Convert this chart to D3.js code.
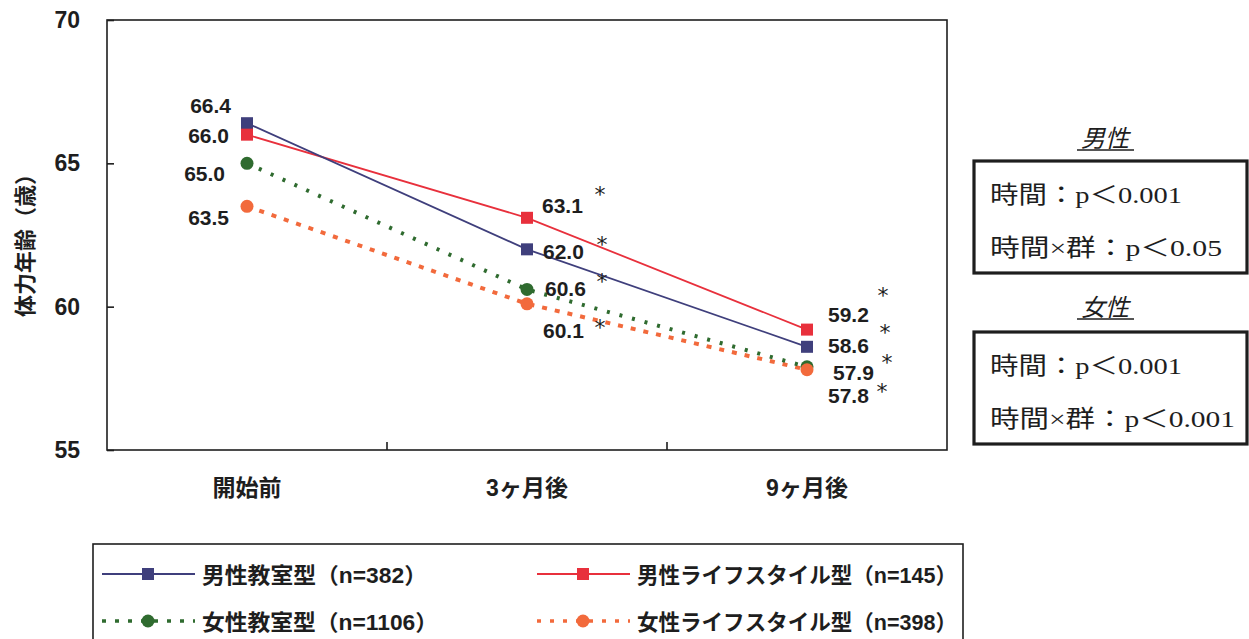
<!DOCTYPE html>
<html>
<head>
<meta charset="utf-8">
<script src="https://cdn.jsdelivr.net/npm/d3@7"></script>
<style>
  html, body { margin: 0; padding: 0; background: #fff; }
  svg { display: block; }
</style>
</head>
<body>
<svg id="chart" width="1249" height="639"></svg>
<script>
// Time points
const categories = ["開始前", "3ヶ月後", "9ヶ月後"];
// Mean physical-fitness age per group
const maleClass = [66.4, 62.0, 58.6];
const maleLife = [66.0, 63.1, 59.2];
const femaleClass = [65.0, 60.6, 57.9];
const femaleLife = [63.5, 60.1, 57.8];
const yTicks = [55, 60, 65, 70];
const seriesNames = ["男性教室型（n=382）", "男性ライフスタイル型（n=145）", "女性教室型（n=1106）", "女性ライフスタイル型（n=398）"];
const statsMale = ["時間：p＜0.001", "時間×群：p＜0.05"];
const statsFemale = ["時間：p＜0.001", "時間×群：p＜0.001"];

const series = [
  { name: seriesNames[0], values: maleClass, color: "#3f3f7c", shape: "square", dash: null },
  { name: seriesNames[1], values: maleLife, color: "#e8303c", shape: "square", dash: null },
  { name: seriesNames[2], values: femaleClass, color: "#2f6b2f", shape: "circle", dash: "3,10" },
  { name: seriesNames[3], values: femaleLife, color: "#f26a3c", shape: "circle", dash: "5,8" }
];

const svg = d3.select("#chart");
const plot = { left: 107, top: 20, right: 947, bottom: 450 };
const sansFont = "'Liberation Sans', Arial, 'Noto Sans CJK JP', sans-serif";
const ink = "#1e1e1e";

const x = d3.scaleBand().domain(categories).range([plot.left, plot.right]);
const y = d3.scaleLinear().domain([55, 70]).range([plot.bottom, plot.top]);
const cx = c => x(c) + x.bandwidth() / 2;

// Frame
svg.append("rect")
  .attr("x", plot.left).attr("y", plot.top)
  .attr("width", plot.right - plot.left).attr("height", plot.bottom - plot.top)
  .attr("fill", "none").attr("stroke", ink).attr("stroke-width", 1.6);

// Y axis (ticks pointing into the plot)
const yAxis = d3.axisLeft(y).tickValues(yTicks).tickSize(-7).tickPadding(27).tickFormat(d3.format("d"));
const gy = svg.append("g").attr("transform", `translate(${plot.left},0)`).call(yAxis);
gy.select(".domain").remove();
gy.selectAll("line").attr("stroke", ink).attr("stroke-width", 1.6);
gy.selectAll("text").attr("font-family", sansFont).attr("font-size", 23).attr("font-weight", "bold").attr("fill", ink);

// X axis: ticks between categories, pointing up
const gx = svg.append("g").attr("transform", `translate(0,${plot.bottom})`);
gx.selectAll("line.sep").data(categories.slice(1)).join("line")
  .attr("class", "sep")
  .attr("x1", d => x(d)).attr("x2", d => x(d))
  .attr("y1", 0).attr("y2", -8)
  .attr("stroke", ink).attr("stroke-width", 1.6);
gx.selectAll("text").data(categories).join("text")
  .attr("x", d => cx(d)).attr("y", 46)
  .attr("text-anchor", "middle")
  .attr("font-family", sansFont).attr("font-size", 23).attr("font-weight", "bold").attr("fill", ink)
  .text(d => d);

// Y title
svg.append("text")
  .attr("transform", "translate(33,240) rotate(-90)")
  .attr("text-anchor", "middle")
  .attr("font-family", sansFont).attr("font-size", 22).attr("font-weight", "bold").attr("fill", ink)
  .text("体力年齢（歳）");

// Lines
const line = d3.line().x((d, i) => cx(categories[i])).y(d => y(d));
series.slice().reverse().forEach(s => {
  svg.append("path")
    .attr("d", line(s.values))
    .attr("fill", "none")
    .attr("stroke", s.color)
    .attr("stroke-width", s.dash ? 4 : 1.8)
    .attr("stroke-dasharray", s.dash);
});

function marker(g, shape, color, px, py, size) {
  if (shape === "square") {
    g.append("rect").attr("x", px - size / 2).attr("y", py - size / 2)
      .attr("width", size).attr("height", size).attr("fill", color);
  } else {
    g.append("circle").attr("cx", px).attr("cy", py).attr("r", size / 2 + 0.5).attr("fill", color);
  }
}

// Markers
const gm = svg.append("g");
[series[2], series[3], series[0], series[1]].forEach(s => {
  s.values.forEach((v, i) => marker(gm, s.shape, s.color, cx(categories[i]), y(v), 12));
});

// Value labels: [dx, dy(baseline), anchor] relative to each point
const labelOffsets = [
  [[-16, -10, "end"], [16, 10, "start"], [21, 6, "start"]],     // maleClass
  [[-18, 8, "end"], [15, -5, "start"], [21, -8, "start"]],      // maleLife
  [[-22, 18, "end"], [18, 7, "start"], [26, 13, "start"]],      // femaleClass
  [[-18, 19, "end"], [16, 34, "start"], [21, 33, "start"]]      // femaleLife
];
// Significance marks: [dx, dy(centre)]
const starOffsets = [
  [null, [75, -7], [78, -17]],
  [null, [73, -26], [76, -37]],
  [null, [75, -10], [80, -7]],
  [null, [73, 21], [75, 19]]
];
const gl = svg.append("g");
series.forEach((s, si) => {
  s.values.forEach((v, i) => {
    const px = cx(categories[i]), py = y(v);
    const [dx, dy, anchor] = labelOffsets[si][i];
    gl.append("text")
      .attr("x", px + dx).attr("y", py + dy)
      .attr("text-anchor", anchor)
      .attr("font-family", sansFont).attr("font-size", 21).attr("font-weight", "bold").attr("fill", ink)
      .text(d3.format(".1f")(v));
    const so = starOffsets[si][i];
    if (so) {
      gl.append("text")
        .attr("x", px + so[0]).attr("y", py + so[1] + 10)
        .attr("text-anchor", "middle")
        .attr("font-family", "'DejaVu Sans', sans-serif").attr("font-size", 22).attr("fill", ink)
        .text("*");
    }
  });
});

// Statistics panels
const serifFont = "'Liberation Serif', 'Times New Roman', 'Noto Sans CJK JP', serif";
function statPanel(title, lines, widths, titleY, boxTop) {
  const g = svg.append("g");
  g.append("text")
    .attr("x", 1105).attr("y", titleY)
    .attr("text-anchor", "middle")
    .attr("font-family", serifFont).attr("font-size", 24).attr("font-style", "italic").attr("fill", ink)
    .text(title);
  g.append("line").attr("x1", 1077).attr("x2", 1134).attr("y1", titleY + 3).attr("y2", titleY + 3)
    .attr("stroke", ink).attr("stroke-width", 1.4);
  g.append("rect").attr("x", 974).attr("y", boxTop).attr("width", 273).attr("height", 112)
    .attr("fill", "none").attr("stroke", ink).attr("stroke-width", 3.2);
  lines.forEach((l, i) => {
    g.append("text")
      .attr("x", 990).attr("y", boxTop + 42 + i * 53)
      .attr("font-family", serifFont).attr("font-size", 24).attr("fill", ink)
      .attr("textLength", widths[i]).attr("lengthAdjust", "spacingAndGlyphs")
      .text(l);
  });
}
statPanel("男性", statsMale, [192, 232], 147, 161);
statPanel("女性", statsFemale, [192, 245], 316, 332);

// Legend
const lg = svg.append("g");
lg.append("rect").attr("x", 93).attr("y", 544).attr("width", 870).attr("height", 120)
  .attr("fill", "none").attr("stroke", ink).attr("stroke-width", 1.6);
const legendPos = [[102, 574], [537, 574], [102, 621], [537, 621]];
const legendWidths = [225, 320, 236, 320];
series.forEach((s, i) => {
  const [lx, ly] = legendPos[i];
  lg.append("line").attr("x1", lx).attr("x2", lx + 93).attr("y1", ly).attr("y2", ly)
    .attr("stroke", s.color).attr("stroke-width", s.dash ? 3.5 : 1.8)
    .attr("stroke-dasharray", s.dash ? "4,9" : null);
  marker(lg, s.shape, s.color, lx + 46, ly, 12);
  lg.append("text")
    .attr("x", lx + 100).attr("y", ly + 9)
    .attr("font-family", sansFont)
    .attr("font-size", 22).attr("font-weight", "bold").attr("fill", ink)
    .attr("textLength", legendWidths[i]).attr("lengthAdjust", "spacingAndGlyphs")
    .text(s.name);
});
</script>
</body>
</html>
